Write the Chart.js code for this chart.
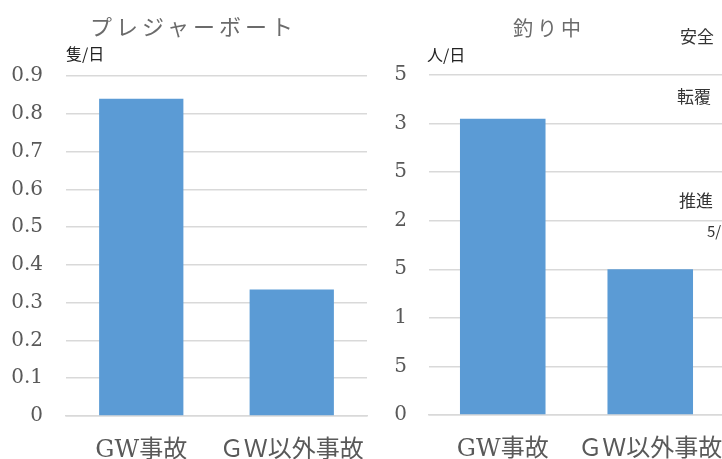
<!DOCTYPE html>
<html>
<head>
<meta charset="utf-8">
<script src="https://cdn.jsdelivr.net/npm/chart.js@4.4.0/dist/chart.umd.min.js"></script>
<style>
  html, body { margin: 0; padding: 0; background: #fff; overflow: hidden; width: 722px; height: 459px; }
  .box { position: absolute; top: 0; height: 459px; }
  .txt { position: absolute; white-space: nowrap; line-height: 1; font-family: "Noto Sans CJK JP", sans-serif; }
  .title { color: #6b6b6b; font-size: 22px; letter-spacing: 4px; }
  .unit { color: #222; font-size: 16px; }
  .side { color: #333; font-size: 17px; }
</style>
</head>
<body>
<div class="box" style="left:0;width:370px"><canvas id="boat"></canvas></div>
<div class="box" style="left:370px;width:360px"><canvas id="fish"></canvas></div>

<div class="txt title" style="left:90px;top:14px">プレジャーボート</div>
<div class="txt title" style="left:513px;top:18px;font-size:20px">釣り中</div>
<div class="txt unit" style="left:66px;top:45px">隻/日</div>
<div class="txt unit" style="left:427px;top:46px">人/日</div>
<div class="txt side" style="left:680px;top:27px">安全</div>
<div class="txt side" style="left:677px;top:87px">転覆</div>
<div class="txt side" style="left:679px;top:191px">推進</div>
<div class="txt side" style="left:707px;top:223px;font-size:15px">5/</div>

<script>
const categories = ['GW事故', 'ＧＷ以外事故'];
const boatValues = [0.84, 0.335];
const fishValues = [3.05, 1.5];
const boatTicks = ['0', '0.1', '0.2', '0.3', '0.4', '0.5', '0.6', '0.7', '0.8', '0.9'];
const fishTicks = ['0', '5', '1', '5', '2', '5', '3', '5'];

const serif = '"DejaVu Serif", "Noto Sans CJK JP", serif';

function makeChart(id, values, tickLabels, max, step, opts) {
    return new Chart(document.getElementById(id), {
        type: 'bar',
        data: {
            labels: categories,
            datasets: [{
                data: values,
                backgroundColor: '#5B9BD5',
                borderWidth: 0,
                barPercentage: 1,
                categoryPercentage: opts.cat
            }]
        },
        options: {
            responsive: true,
            maintainAspectRatio: false,
            animation: false,
            layout: { padding: { top: opts.top, left: 0, right: opts.right, bottom: 0 } },
            plugins: { legend: { display: false }, tooltip: { enabled: false } },
            scales: {
                x: {
                    grid: { display: false, drawTicks: false },
                    border: { color: '#D9D9D9', width: 1.5 },
                    ticks: { color: '#595959', font: { family: serif, size: 24 }, padding: 20, maxRotation: 0 },
                    afterFit: s => { s.height = opts.xh; s.paddingLeft = 0; s.paddingRight = 0; }
                },
                y: {
                    min: 0, max: max,
                    grid: { color: '#D9D9D9', lineWidth: 1.5, drawTicks: false },
                    border: { display: false },
                    ticks: {
                        stepSize: step,
                        color: '#595959',
                        font: { family: serif, size: 20 },
                        padding: opts.ypad,
                        callback: (v, i) => tickLabels[i]
                    },
                    afterFit: s => { s.width = opts.yw; s.paddingTop = 0; s.paddingBottom = 0; }
                }
            }
        }
    });
}

makeChart('boat', boatValues, boatTicks, 0.9, 0.1, { cat: 0.56, top: 76, right: 3, xh: 43, yw: 66, ypad: 23 });
makeChart('fish', fishValues, fishTicks, 3.5, 0.5, { cat: 0.58, top: 75, right: 6, xh: 44, yw: 59, ypad: 22 });
</script>
</body>
</html>
